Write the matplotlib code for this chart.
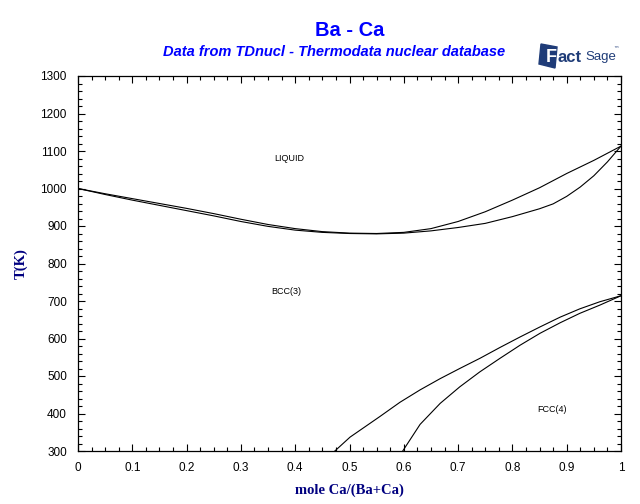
import matplotlib
matplotlib.use("Agg")
import matplotlib.pyplot as plt
from matplotlib.ticker import MultipleLocator, FuncFormatter
from matplotlib.patches import Polygon

# liquid / BCC two-phase boundaries
liq_x = [0, 0.05, 0.1, 0.15, 0.2, 0.25, 0.3, 0.35, 0.4, 0.45, 0.5, 0.55, 0.6,
         0.65, 0.7, 0.75, 0.8, 0.85, 0.9, 0.95, 1.0]
liquidus = [1000, 986, 973, 960, 947, 933, 918, 904, 893, 885, 881, 880, 883,
            893, 912, 938, 969, 1002, 1040, 1075, 1113]
sol_x = [0, 0.05, 0.1, 0.15, 0.2, 0.25, 0.3, 0.35, 0.4, 0.45, 0.5, 0.55, 0.6,
         0.65, 0.7, 0.75, 0.8, 0.85, 0.875, 0.9, 0.925, 0.95, 0.975, 1.0]
solidus = [1000, 984, 969, 955, 941, 927, 912, 899, 889, 883, 880, 879, 881,
           887, 896, 907, 925, 946, 959, 979, 1004, 1034, 1071, 1113]

# BCC / FCC two-phase boundaries
bcc_x = [0.473, 0.501, 0.556, 0.593, 0.630, 0.667, 0.703, 0.740, 0.777, 0.814,
         0.851, 0.888, 0.924, 0.961, 1.0]
bcc_T = [300, 337, 392, 430, 463, 493, 520, 547, 576, 604, 631, 657, 679, 698, 714]
fcc_x = [0.598, 0.630, 0.667, 0.703, 0.740, 0.777, 0.814, 0.851, 0.888, 0.924,
         0.961, 1.0]
fcc_T = [300, 371, 427, 471, 511, 547, 582, 614, 642, 667, 689, 714]

labels = ["LIQUID", "BCC(3)", "FCC(4)"]
label_pos = [(0.389, 1079), (0.383, 724), (0.873, 412)]

fig = plt.figure(figsize=(6.4, 5.04), dpi=100)
ax = fig.add_axes([78 / 640, 1 - 451 / 504, 543 / 640, 375 / 504])

for xs, ys in [(liq_x, liquidus), (sol_x, solidus), (bcc_x, bcc_T), (fcc_x, fcc_T)]:
    ax.plot(xs, ys, color="black", lw=0.8)

for txt, (lx, ly) in zip(labels, label_pos):
    ax.text(lx, ly, txt, fontsize=6.5, family="Liberation Sans", ha="center", va="center")

ax.set_xlim(0, 1)
ax.set_ylim(300, 1300)
ax.xaxis.set_major_locator(MultipleLocator(0.1))
ax.xaxis.set_minor_locator(MultipleLocator(0.025))
ax.yaxis.set_major_locator(MultipleLocator(100))
ax.yaxis.set_minor_locator(MultipleLocator(20))
ax.xaxis.set_major_formatter(FuncFormatter(lambda v, p: "%g" % round(v, 2)))
ax.tick_params(which="both", direction="in", top=True, right=True, width=0.8,
               labelsize=8.5, pad=8)
ax.tick_params(which="major", length=5)
ax.tick_params(which="minor", length=3)
for lab in ax.get_xticklabels() + ax.get_yticklabels():
    lab.set_family("Liberation Sans")
for sp in ax.spines.values():
    sp.set_linewidth(0.9)

ax.set_xlabel("mole Ca/(Ba+Ca)", family="Liberation Serif", fontweight="bold",
              fontsize=10.5, color="#000080", labelpad=7)
ax.set_ylabel("T(K)", family="Liberation Serif", fontweight="bold",
              fontsize=10.5, color="#000080", labelpad=9)

fig.text(349.5 / 640, 1 - 30 / 504, "Ba - Ca", ha="center", va="center",
         fontsize=14.5, fontweight="bold", color="#0000ff", family="Liberation Sans")
fig.text(334 / 640, 1 - 52 / 504, "Data from TDnucl - Thermodata nuclear database",
         ha="center", va="center", fontsize=10.5, fontweight="bold", style="italic",
         color="#0000ff", family="Liberation Sans")

# FactSage logo
logo = "#1f3c78"
sq = [(541, 44), (557, 47), (555, 68), (539, 64)]
fig.patches.append(Polygon([(px / 640, 1 - py / 504) for px, py in sq], closed=True,
                           transform=fig.transFigure, color=logo))
fig.text(546 / 640, 1 - 57 / 504, "F", ha="left", va="center", fontsize=13,
         fontweight="bold", color="white", family="Liberation Sans")
fig.text(558 / 640, 1 - 58 / 504, "act", ha="left", va="center", fontsize=12,
         fontweight="bold", color=logo, family="Liberation Sans")
fig.text(585 / 640, 1 - 57 / 504, "Sage", ha="left", va="center", fontsize=9.5,
         color=logo, family="Liberation Sans")
fig.text(613 / 640, 1 - 50 / 504, "\u2122", ha="left", va="center", fontsize=4,
         color=logo, family="DejaVu Sans")

fig.savefig("out.png", dpi=100)
